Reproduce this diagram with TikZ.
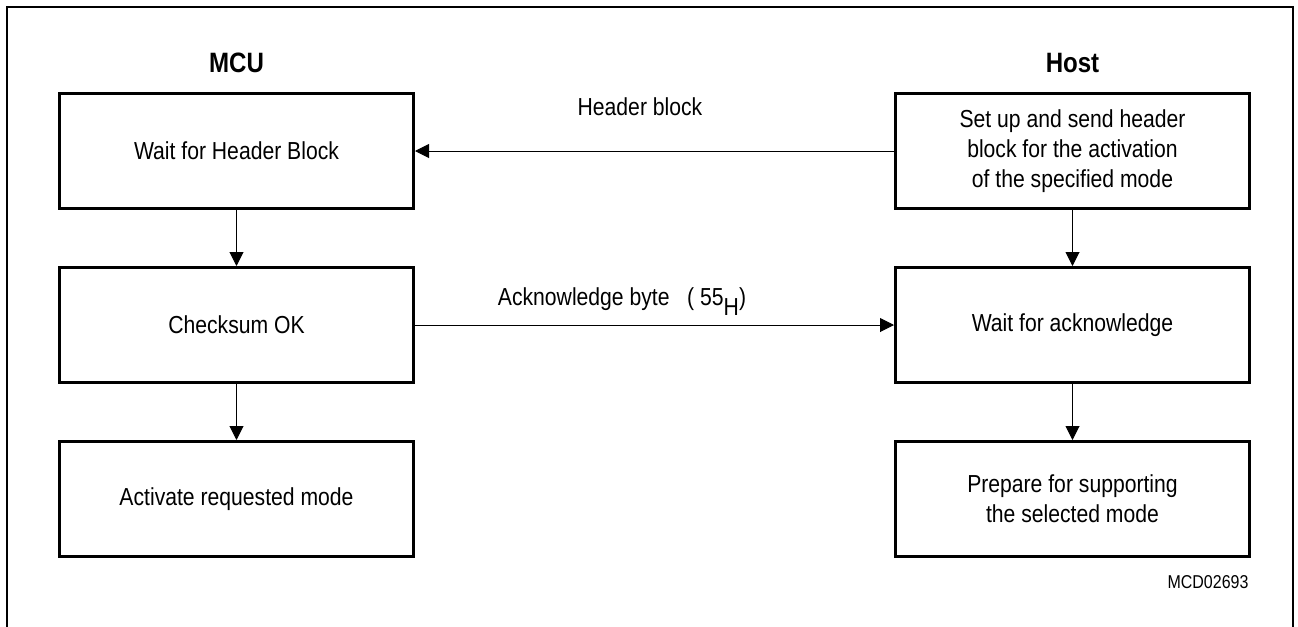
\documentclass[tikz,border=0pt]{standalone}
\usepackage{fontspec}
\setmainfont{Liberation Sans}[FakeStretch=0.86]
\usetikzlibrary{arrows.meta}
\tikzset{
  stage/.style={
    shape = rectangle,
    draw,
    line width = 1.5pt,
    minimum width = 177pt,
    minimum height = 57.5pt,
    align = center,
    font = \fontsize{12.3}{15}\selectfont
  },
  flow/.style={
    line width = 0.5pt,
    -{Triangle[length=7pt,width=7pt]}
  },
  side/.style={
    font = \fontsize{14}{16}\selectfont\bfseries
  },
  msg/.style={
    font = \fontsize{12.3}{15}\selectfont
  },
}
\tikzset{
  frame/.style={
    line width = 1pt
  },
}
\begin{document}
\begin{tikzpicture}[x=0.5pt,y=-0.5pt]
\useasboundingbox (0,0) rectangle (1298,627);
\draw[frame] (7,627) -- (7,7) -- (1293,7) -- (1293,627);
% titles
\node[side] (mcu) at (236.5,63) {MCU};
\node[side] (host) at (1072.5,63) {Host};
% MCU side
\node[stage] (mcu1) at (236.5,151) {Wait for Header Block};
\node[stage] (mcu2) at (236.5,325) {Checksum OK};
\node[stage] (mcu3) at (236.5,499) {Activate requested mode};
% Host side
\node[stage] (host1) at (1072.5,151) {Set up and send header\\ block for the activation\\ of the specified mode};
\node[stage] (host2) at (1072.5,325) {Wait for acknowledge};
\node[stage] (host3) at (1072.5,499) {Prepare for supporting\\ the selected mode};
\draw[flow] (mcu1) -- (mcu2);
\draw[flow] (mcu2) -- (mcu3);
\draw[flow] (host1) -- (host2);
\draw[flow] (host2) -- (host3);
\draw[flow] (host1) -- (mcu1);
\draw[flow] (mcu2) -- (host2);
\node[msg] (hdr) at (640,107) {Header block};
\node[msg] (ack) at (622,302) {Acknowledge byte\ \ \ ( 55\raisebox{-5pt}{H})};
\node[font=\fontsize{9.3}{11}\selectfont] (code) at (1208,582) {MCD02693};
\end{tikzpicture}
\end{document}
